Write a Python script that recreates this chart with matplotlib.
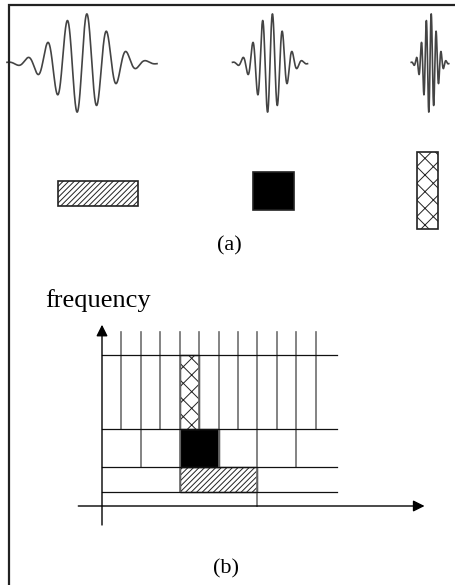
import numpy as np
import matplotlib.pyplot as plt
from matplotlib.patches import Rectangle

W, H, DPI = 456, 585, 100

# ---- (a) one wavelet at three dilations, and the tile each one covers
scales = [1.0, 0.5, 0.25]
wave_x = [82, 270, 430]          # wavelet centres (px)
tile_x = [98, 274, 427.5]        # tile centres (px)
tile_y = [193, 191, 190.5]
tile_w = [80, 41, 21.6]          # tile widths (px)
tile_h = [25, 38, 77]            # tile heights (px)
tile_hatch = ['//////', None, 'xx']
tile_face = ['white', 'black', 'white']

period, sigma, amp, half_span = 19.7, 25.7, 50.0, 75.0
wave_base = 63

# ---- (b) time-frequency tiling (time in column units, frequency in band units)
band_edges = [1.15, 3.15, 6.2, 12.05]
t_end = 12.08
cut_times = [1, 2, 3, 4, 5, 6, 7, 8, 9, 10, 11]
cut_bottom = [6.2, 3.15, 6.2, 1.15, 6.2, 3.15, 6.2, 0.0, 6.2, 3.15, 6.2]
cut_top = 13.9
# highlighted tiles: (t0, t1, f0, f1)
tiles_b = [(4, 8, 1.15, 3.15), (4, 6, 3.15, 6.2), (4, 5, 6.2, 12.05)]

plt.rcParams['font.family'] = ['Liberation Serif', 'DejaVu Serif']
plt.rcParams['hatch.linewidth'] = 0.7
plt.rcParams['hatch.color'] = '#555555'

fig = plt.figure(figsize=(W / DPI, H / DPI), dpi=DPI)

# panel (a) axes in pixel units
ax_a = fig.add_axes([0, 0, 1, 1])
ax_a.set_xlim(0, W)
ax_a.set_ylim(H, 0)
ax_a.axis('off')

for s, cx in zip(scales, wave_x):
    d = np.linspace(-half_span, half_span, 1500)
    y = amp * np.exp(-0.5 * (d / sigma) ** 2) * np.sin(2 * np.pi * d / period)
    ax_a.plot(cx + d * s, wave_base - y, color='#444444', lw=1.2)

for cx, cy, w, h, hat, fc in zip(tile_x, tile_y, tile_w, tile_h, tile_hatch, tile_face):
    ax_a.add_patch(Rectangle((cx - w / 2, cy - h / 2), w, h, facecolor=fc,
                             edgecolor='#222222', hatch=hat, lw=1.2))

# frame (left and top only)
ax_a.plot([8.8, 8.8, W], [H, 4.8, 4.8], color='#222222', lw=1.6,
          solid_joinstyle='miter', clip_on=False)

# panel (b) axes: origin at (102, 506) px, 19.43 px per time unit, 12.5 px per band unit
x0, ux, y0, uy = 102.0, 19.43, 506.0, 12.5
ax_b = fig.add_axes([0, 0, 1, 1])
ax_b.set_xlim(-x0 / ux, (W - x0) / ux)
ax_b.set_ylim(-(H - y0) / uy, y0 / uy)
ax_b.axis('off')
ax_b.patch.set_alpha(0)

for (t0, t1, f0, f1), hat, fc in zip(tiles_b, tile_hatch, tile_face):
    ax_b.add_patch(Rectangle((t0, f0), t1 - t0, f1 - f0, facecolor=fc,
                             edgecolor='#222222', hatch=hat, lw=1.0, zorder=2))

for t, fb in zip(cut_times, cut_bottom):
    ax_b.plot([t, t], [fb, cut_top], color='#6e6e6e', lw=1.2, zorder=3)

for f in band_edges:
    ax_b.plot([0, t_end], [f, f], color='#111111', lw=0.9, zorder=3)

# axes arrows
ax_b.annotate('', xy=(0, 14.5), xytext=(0, -1.52),
              arrowprops=dict(arrowstyle='-|>', color='black', lw=1.0,
                              mutation_scale=17, shrinkA=0, shrinkB=0))
ax_b.annotate('', xy=(16.6, 0), xytext=(-1.22, 0),
              arrowprops=dict(arrowstyle='-|>', color='black', lw=1.0,
                              mutation_scale=17, shrinkA=0, shrinkB=0))

fig.text(45 / W, 1 - 307 / H, 'frequency', fontsize=19, ha='left', va='baseline')
fig.text(229 / W, 1 - 246 / H, '(a)', fontsize=16, ha='center', va='center')
fig.text(226 / W, 1 - 569 / H, '(b)', fontsize=16, ha='center', va='center')

fig.savefig('out.png', dpi=DPI, facecolor='white')
